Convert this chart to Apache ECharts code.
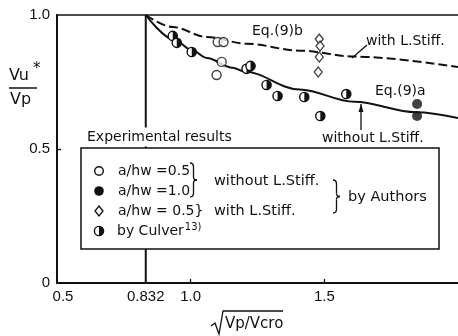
<!DOCTYPE html>
<html><head><meta charset="utf-8">
<script src="https://cdn.jsdelivr.net/npm/echarts/dist/echarts.min.js"></script>
<style>html,body{margin:0;padding:0;background:#fff}#c{width:458px;height:336px}</style>
</head><body><div id="c"></div>
<script>
// Curves
const eq9aX = [0.832, 0.94, 1.004, 1.06, 1.157, 1.201, 1.407, 1.612, 1.843, 2.0];
const eq9aY = [1.0, 0.907, 0.869, 0.840, 0.803, 0.789, 0.722, 0.676, 0.637, 0.616];
const eq9bX = [0.832, 0.933, 1.06, 1.209, 1.407, 1.612, 2.0];
const eq9bY = [1.0, 0.955, 0.918, 0.893, 0.867, 0.845, 0.806];
// Experimental points
const openX = [1.101, 1.123, 1.116, 1.097];
const openY = [0.899, 0.899, 0.825, 0.776];
const filledX = [1.847, 1.847];
const filledY = [0.668, 0.623];
const diamondX = [1.481, 1.484, 1.481, 1.477];
const diamondY = [0.910, 0.884, 0.843, 0.787];
const culverX = [0.933, 0.948, 1.004, 1.209, 1.224, 1.284, 1.325, 1.425, 1.485, 1.582];
const culverY = [0.922, 0.896, 0.862, 0.799, 0.810, 0.739, 0.698, 0.694, 0.623, 0.705];
// Ticks
const xTickValues = [0.5, 0.832, 1.0, 1.5];
const xTickLabels = ['0.5', '0.832', '1.0', '1.5'];
const yTickValues = [0, 0.5, 1.0];
const yTickLabels = ['0', '0.5', '1.0'];
const refX = 0.832;

const INK = '#111';
const F = '"DejaVu Sans", sans-serif';
const zip = (a, b) => a.map((v, i) => [v, b[i]]);

function brace(x0, y1, y2, w) {
  const ym = (y1 + y2) / 2, xm = x0 + w / 2, st = {stroke: INK, lineWidth: 1.3, fill: null};
  const seg = (a, b, c) => ({type: 'bezierCurve', z: 110, shape: {x1: a[0], y1: a[1], x2: b[0], y2: b[1], cpx1: c[0], cpy1: c[1]}, style: st});
  const ln = (a, b) => ({type: 'line', z: 110, shape: {x1: a[0], y1: a[1], x2: b[0], y2: b[1]}, style: st});
  return [
    seg([x0, y1], [xm, y1 + 4], [xm, y1]),
    ln([xm, y1 + 4], [xm, ym - 3]),
    seg([xm, ym - 3], [x0 + w, ym], [xm, ym]),
    seg([x0 + w, ym], [xm, ym + 3], [xm, ym]),
    ln([xm, ym + 3], [xm, y2 - 4]),
    seg([xm, y2 - 4], [x0, y2], [xm, y2])
  ];
}
function txt(x, y, s, size, extra) {
  return Object.assign({type: 'text', x: x, y: y, z: 110,
    style: Object.assign({text: s, font: (size || 14) + 'px ' + F, fill: INK, verticalAlign: 'middle', align: 'left'}, extra || {})});
}
function halfMarker(cx, cy, r) {
  return [
    {type: 'circle', z: 110, shape: {cx, cy, r}, style: {fill: '#fff', stroke: INK, lineWidth: 1.4}},
    {type: 'sector', z: 111, shape: {cx, cy, r, r0: 0, startAngle: -Math.PI / 2, endAngle: Math.PI / 2}, style: {fill: INK}}
  ];
}

const chart = echarts.init(document.getElementById('c'));

const rows = [171, 191, 211, 231];
const graphic = [].concat(
  [{type: 'rect', z: 100, shape: {x: 81, y: 148, width: 358, height: 101}, style: {fill: '#fff', stroke: INK, lineWidth: 1.5}}],
  [txt(85, 137, 'Experimental results', 14, {backgroundColor: '#fff', padding: [3, 2, 2, 2]})],
  [{type: 'circle', z: 110, shape: {cx: 99, cy: rows[0], r: 4.3}, style: {fill: '#fff', stroke: INK, lineWidth: 1.4}}],
  [{type: 'circle', z: 110, shape: {cx: 99, cy: rows[1], r: 4.8}, style: {fill: INK}}],
  [{type: 'polygon', z: 110, shape: {points: [[99, rows[2] - 5], [103, rows[2]], [99, rows[2] + 5], [95, rows[2]]]}, style: {fill: '#fff', stroke: INK, lineWidth: 1.3}}],
  halfMarker(99, rows[3], 4.6),
  [txt(118, rows[0], 'a/hw =0.5'), txt(118, rows[1], 'a/hw =1.0'), txt(118, rows[2], 'a/hw = 0.5}'),
   txt(117, rows[3], '', 14, {text: 'by Culver{s|13)}', rich: {s: {fontSize: 10, fontFamily: F, fill: INK, verticalAlign: 'bottom', padding: [0, 0, 8, 1]}}})],
  brace(190, rows[0] - 8, rows[1] + 6, 7),
  [txt(214, 181, 'without L.Stiff.', 14.5), txt(214, rows[2], 'with L.Stiff.', 14.5)],
  brace(333, 180, 213, 7),
  [txt(348, 197, 'by Authors', 14.5)],
  // annotations
  [txt(252, 31, 'Eq.(9)b', 14), txt(366, 41, 'with L.Stiff.', 14), txt(375, 91, 'Eq.(9)a', 14),
   txt(322, 138, 'without L.Stiff.', 14)],
  [{type: 'line', z: 110, shape: {x1: 367, y1: 45, x2: 352, y2: 58}, style: {stroke: INK, lineWidth: 1.3}},
   {type: 'line', z: 110, shape: {x1: 361, y1: 130, x2: 361, y2: 104}, style: {stroke: INK, lineWidth: 1.3}},
   {type: 'polygon', z: 110, shape: {points: [[361, 104], [363.5, 112], [358.5, 112]]}, style: {fill: INK}}],
  // y-axis title
  [txt(9, 76, 'Vu', 16), txt(33, 69, '*', 15),
   {type: 'line', z: 110, shape: {x1: 9, y1: 88, x2: 37, y2: 88}, style: {stroke: INK, lineWidth: 1.5}},
   txt(10, 100, 'Vp', 16)],
  // x-axis title with radical
  [{type: 'polyline', z: 110, shape: {points: [[211, 326], [215, 323], [219, 334], [223, 311], [283, 311]]}, style: {stroke: INK, lineWidth: 1.3, fill: null}},
   txt(225, 324, 'Vp/Vcro', 15)]
);

chart.setOption({
  animation: false,
  backgroundColor: '#fff',
  grid: {left: 57, right: 0, top: 15, bottom: 53},
  xAxis: [{
    type: 'value', min: 0.5, max: 2.0, interval: 0.5,
    axisLine: {lineStyle: {color: INK, width: 2}},
    axisTick: {show: true, inside: true, length: 4, customValues: [1.0, 1.5], lineStyle: {color: INK, width: 1.3}},
    splitLine: {show: false},
    axisLabel: {
      customValues: xTickValues, margin: 6, color: INK, fontSize: 15, fontFamily: '"Liberation Sans", Arial, sans-serif',
      formatter: v => {
        const i = xTickValues.findIndex(t => Math.abs(t - v) < 1e-6);
        const s = i >= 0 ? xTickLabels[i] : '';
        return i === 0 ? '{a|' + s + '}' : s;
      },
      rich: {a: {fontSize: 15, fontFamily: '"Liberation Sans", Arial, sans-serif', color: INK, padding: [0, 0, 0, 12]}}
    }
  }, {
    type: 'value', position: 'top', min: 0.5, max: 2.0, interval: 0.5,
    axisLine: {show: true, lineStyle: {color: INK, width: 1.6}},
    axisTick: {show: false}, axisLabel: {show: false}, splitLine: {show: false}
  }],
  yAxis: {
    type: 'value', min: 0, max: 1.0, interval: 0.5,
    axisLine: {show: true, lineStyle: {color: INK, width: 2}},
    axisTick: {show: true, inside: true, length: 4, customValues: [0.5], lineStyle: {color: INK, width: 1.3}},
    splitLine: {show: false},
    axisLabel: {
      customValues: yTickValues, margin: 7, color: INK, fontSize: 15, fontFamily: '"Liberation Sans", Arial, sans-serif',
      formatter: v => { const i = yTickValues.findIndex(t => Math.abs(t - v) < 1e-6); return i >= 0 ? yTickLabels[i] : ''; }
    }
  },
  series: [
    {type: 'line', data: [[refX, 0], [refX, 1.0]], symbol: 'none', lineStyle: {color: INK, width: 2}, z: 1},
    {type: 'line', data: zip(eq9aX, eq9aY), symbol: 'none', smooth: 0.35, smoothMonotone: 'x', lineStyle: {color: INK, width: 2}},
    {type: 'line', data: zip(eq9bX, eq9bY), symbol: 'none', smooth: 0.35, smoothMonotone: 'x', lineStyle: {color: INK, width: 2, type: [9, 4]}},
    {type: 'scatter', data: zip(openX, openY), symbol: 'circle', symbolSize: 9, itemStyle: {color: '#fff', borderColor: INK, borderWidth: 1.4}, z: 5},
    {type: 'scatter', data: zip(filledX, filledY), symbol: 'circle', symbolSize: 10, itemStyle: {color: INK}, z: 5},
    {type: 'scatter', data: zip(diamondX, diamondY), symbol: 'diamond', symbolSize: [8, 10], itemStyle: {color: '#fff', borderColor: INK, borderWidth: 1.3}, z: 5},
    {type: 'custom', data: zip(culverX, culverY), z: 6,
      renderItem: (params, api) => {
        const p = api.coord([api.value(0), api.value(1)]);
        const r = 4.6;
        return {type: 'group', children: [
          {type: 'circle', shape: {cx: p[0], cy: p[1], r}, style: {fill: '#fff', stroke: INK, lineWidth: 1.4}},
          {type: 'sector', shape: {cx: p[0], cy: p[1], r0: 0, r, startAngle: -Math.PI / 2, endAngle: Math.PI / 2}, style: {fill: INK}}
        ]};
      }}
  ],
  graphic: graphic
});
</script></body></html>
